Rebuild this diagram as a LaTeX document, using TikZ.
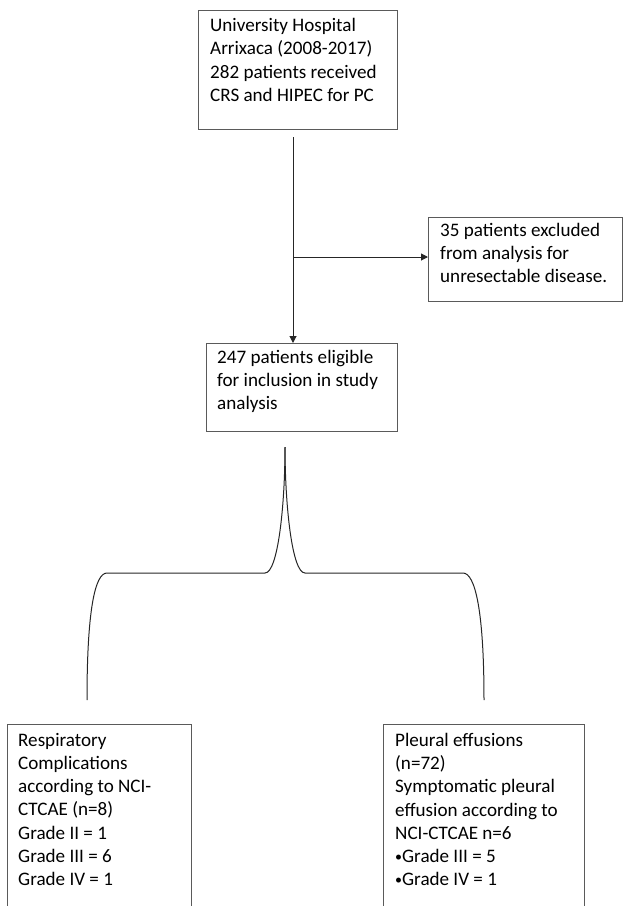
\documentclass[tikz,border=0pt]{standalone}
\usepackage{fontspec}
\setmainfont{Carlito}
\usetikzlibrary{arrows.meta}
\definecolor{boxgray}{HTML}{5A5A5A}
\definecolor{linegray}{HTML}{262626}
\newcommand\smbul{{\fontsize{14}{14}\selectfont\raisebox{1.6pt}{•}}}
\begin{document}
\begin{tikzpicture}[x=1pt,y=1pt,
  box/.style={draw=boxgray, line width=1pt, anchor=north west, inner sep=0pt},
  txt/.style={anchor=north west, inner sep=0pt, align=left,
              font=\fontsize{19.1}{23.3}\selectfont, execute at begin node=\strut},
  conn/.style={line width=1pt, draw=linegray},
  arr/.style={conn, -{Triangle[length=7pt,width=7pt]}}]
\useasboundingbox (0,0) rectangle (623,-906);
\clip (0,0) rectangle (623,-906);

\node[box, minimum width=199pt, minimum height=119pt] (hosp) at (198,-10) {};
\node[txt] (hosptxt) at (210,-18.2) {University Hospital\\Arrixaca (2008-2017)\\282 patients received\\CRS and HIPEC for PC};

\node[box, minimum width=194pt, minimum height=84pt] (excl) at (428,-217) {};
\node[txt] (excltxt) at (440,-222.7) {35 patients excluded\\from analysis for\\unresectable disease.};

\node[box, minimum width=191pt, minimum height=88pt] (elig) at (206,-343) {};
\node[txt] (eligtxt) at (217,-349.7) {247 patients eligible\\for inclusion in study\\analysis};

\node[box, minimum width=184pt, minimum height=220pt] (resp) at (7,-724) {};
\node[txt] (resptxt) at (18,-732.7) {Respiratory\\Complications\\according to NCI-\\CTCAE (n=8)\\Grade II = 1\\Grade III = 6\\Grade IV = 1};

\node[box, minimum width=201pt, minimum height=220pt] (pleu) at (383,-724) {};
\node[txt] (pleutxt) at (395,-732.7) {Pleural effusions\\(n=72)\\Symptomatic pleural\\effusion according to\\NCI-CTCAE n=6\\\smbul Grade III = 5\\\smbul Grade IV = 1};

\coordinate (start) at (293,-137);
\coordinate (branch) at (293,-257);
\draw[arr] (start) -- (start |- elig.north);
\draw[arr] (branch) -- (branch -| excl.west);

\coordinate (tip) at (285,-447);
\coordinate (lin) at (265,-573);
\coordinate (lout) at (107,-573);
\coordinate (lend) at (87,-700);
\coordinate (rin) at (305,-573);
\coordinate (rout) at (463,-573);
\coordinate (rend) at (484,-700);
\draw[conn] (tip) .. controls (285,-505) and (278,-573) .. (lin) -- (lout)
  .. controls (95,-573) and (87,-610) .. (lend);
\draw[conn] (tip) .. controls (285,-505) and (292,-573) .. (rin) -- (rout)
  .. controls (475,-573) and (484,-610) .. (rend);
\end{tikzpicture}
\end{document}
